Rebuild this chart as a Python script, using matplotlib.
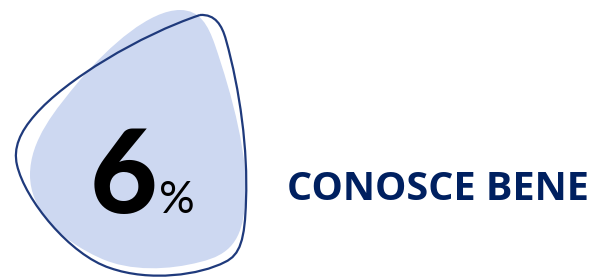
import matplotlib
matplotlib.use("Agg")
import matplotlib.pyplot as plt
from matplotlib.path import Path
from matplotlib.patches import PathPatch

# shapes in pixel coords (y down): start point, then cubic segments (c1, c2, end)
fill_blob = [
    (180, 10),
    (200, 10), (208, 25), (215, 45),
    (232, 95), (250, 160), (245, 205),
    (242, 240), (230, 255), (200, 262),
    (170, 270), (130, 272), (100, 258),
    (60, 240), (30, 210), (30, 175),
    (30, 140), (55, 110), (80, 80),
    (110, 45), (150, 10), (180, 10),
]
outline_blob = [
    (200, 15),
    (215, 14), (222, 25), (226, 40),
    (240, 90), (248, 150), (246, 200),
    (245, 240), (240, 255), (225, 262),
    (200, 275), (150, 282), (110, 268),
    (70, 255), (25, 200), (17, 165),
    (13, 148), (20, 132), (35, 115),
    (65, 80), (140, 35), (200, 15),
]

value = "6"
unit = "%"
label = "CONOSCE BENE"

FILL = "#cdd8f1"
EDGE = "#1f3a7c"
NAVY = "#002060"


def bezier_path(pts):
    codes = [Path.MOVETO] + [Path.CURVE4] * (len(pts) - 1)
    return Path(pts, codes)


fig = plt.figure(figsize=(6.02, 2.80), dpi=100)
ax = fig.add_axes([0, 0, 1, 1])
ax.set_xlim(0, 602)
ax.set_ylim(280, 0)
ax.axis("off")

ax.add_patch(PathPatch(bezier_path(fill_blob), facecolor=FILL, edgecolor="none"))
ax.add_patch(PathPatch(bezier_path(outline_blob), facecolor="none", edgecolor=EDGE, lw=1.6))

ax.text(124, 213, value, fontsize=84, fontweight="black", family="Lato", color="black",
        ha="center", va="baseline")
ax.text(159, 213, unit, fontsize=32, family="Lato", color="black", ha="left", va="baseline")
ax.text(287, 200, label, fontsize=28.5, fontweight="bold", family="Open Sans", color=NAVY,
        ha="left", va="baseline")

fig.savefig("out.png", dpi=100)
